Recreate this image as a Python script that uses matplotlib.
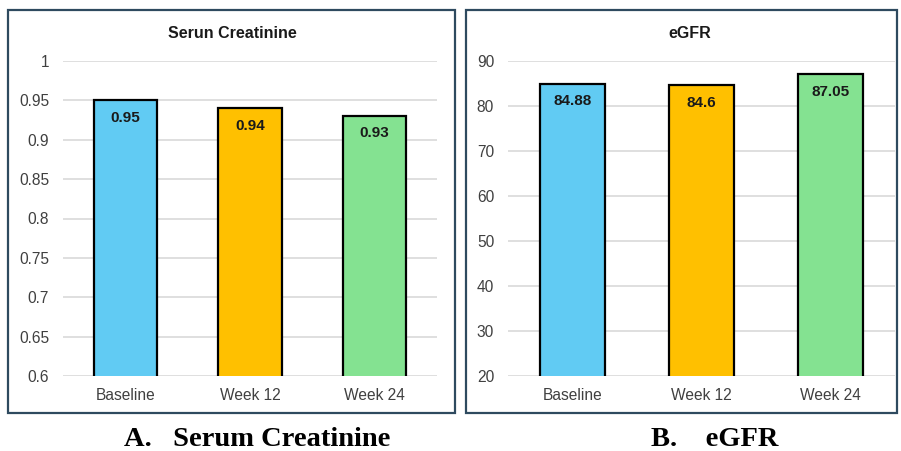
import matplotlib

matplotlib.use("Agg")
import matplotlib.pyplot as plt
from matplotlib.patches import Rectangle

# ---------------------------------------------------------------- data
categories = ["Baseline", "Week 12", "Week 24"]
creatinine = [0.95, 0.94, 0.93]
creatinine_labels = ["0.95", "0.94", "0.93"]
egfr = [84.88, 84.6, 87.05]
egfr_labels = ["84.88", "84.6", "87.05"]
creat_ticks = [0.6, 0.65, 0.7, 0.75, 0.8, 0.85, 0.9, 0.95, 1.0]
creat_ticklabels = ["0.6", "0.65", "0.7", "0.75", "0.8", "0.85", "0.9", "0.95", "1"]
egfr_ticks = [20, 30, 40, 50, 60, 70, 80, 90]

bar_colors = ["#61CBF3", "#FFC000", "#84E291"]
frame_color = "#2E4A5F"
W, H = 901, 451

plt.rcParams["font.family"] = ["Liberation Sans", "DejaVu Sans"]

fig = plt.figure(figsize=(W / 100, H / 100), dpi=100)


def px_box(x0, y0, x1, y1):
    """Pixel box (top-left origin) -> figure fraction [l, b, w, h]."""
    return [x0 / W, 1 - y1 / H, (x1 - x0) / W, (y1 - y0) / H]


def panel(frame, axbox, title, title_x, values, labels, ylim, ticks, ticklabels,
          caption, caption_x):
    # outer frame round each chart
    l, b, w, h = px_box(*frame)
    fig.add_artist(Rectangle((l, b), w, h, transform=fig.transFigure,
                             fill=False, ec=frame_color, lw=1.6))
    ax = fig.add_axes(px_box(*axbox))
    x = range(len(categories))
    bars = ax.bar(x, values, width=0.51, color=bar_colors, edgecolor="black",
                  linewidth=1.6, zorder=3)
    for rect, lab in zip(bars, labels):
        ax.annotate(lab, (rect.get_x() + rect.get_width() / 2, rect.get_height()),
                    xytext=(0, -12.5), textcoords="offset points",
                    ha="center", va="center", fontsize=11, fontweight="bold",
                    color="#1a1a1a", zorder=4)
    ax.set_xlim(-0.5, len(categories) - 0.5)
    ax.set_ylim(*ylim)
    ax.set_yticks(ticks)
    ax.set_yticklabels(ticklabels)
    ax.set_xticks(list(x))
    ax.set_xticklabels(categories)
    ax.yaxis.grid(True, color="#D9D9D9", lw=1.2, zorder=0)
    for s in ax.spines.values():
        s.set_visible(False)
    ax.tick_params(axis="both", length=0, labelsize=11.2, labelcolor="#404040")
    ax.tick_params(axis="y", pad=10)
    ax.tick_params(axis="x", pad=8.5)
    fig.text(title_x / W, 1 - 33 / H, title, ha="center", va="center",
             fontsize=11.5, fontweight="bold", color="#1a1a1a")
    fig.text(caption_x / W, 1 - 439 / H, caption, ha="center", va="center",
             fontsize=20.5, fontweight="bold", family="Liberation Serif",
             color="black")
    return ax


panel((8, 10, 455, 413), (63, 61, 437, 376), "Serun Creatinine", 232,
      creatinine, creatinine_labels, (0.6, 1.0), creat_ticks, creat_ticklabels,
      "A.   Serum Creatinine", 257)
panel((466, 10, 897, 413), (508, 61, 895, 376), "eGFR", 690,
      egfr, egfr_labels, (20, 90), egfr_ticks, [str(t) for t in egfr_ticks],
      "B.    eGFR", 715)

fig.savefig("out.png", dpi=100)
